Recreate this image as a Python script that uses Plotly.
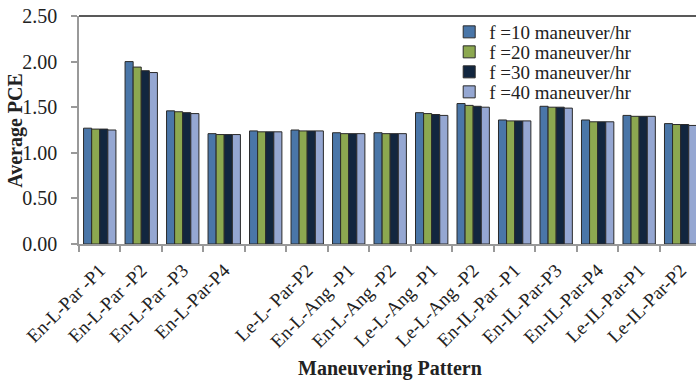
import plotly.graph_objects as go

categories = ["En-L-Par-P1", "En-L-Par-P2", "En-L-Par-P3", "En-L-Par-P4", "Le-L-Par-P1",
              "Le-L-Par-P2", "En-L-Ang-P1", "En-L-Ang-P2", "Le-L-Ang-P1", "Le-L-Ang-P2",
              "En-IL-Par-P1", "En-IL-Par-P3", "En-IL-Par-P4", "Le-IL-Par-P1", "Le-IL-Par-P2"]
tick_labels = ["En-L-Par -P1", "En-L-Par -P2", "En-L-Par -P3", "En-L-Par-P4", "",
               "Le-L- Par-P2", "En-L-Ang -P1", "En-L-Ang -P2", "Le-L-Ang -P1", "Le-L-Ang -P2",
               "En-IL-Par -P1", "En-IL-Par-P3", "En-IL-Par-P4", "Le-IL-Par-P1", "Le-IL-Par-P2"]

series_names = ["f =10 maneuver/hr", "f =20 maneuver/hr", "f =30 maneuver/hr", "f =40 maneuver/hr"]
f10 = [1.27, 2.00, 1.46, 1.21, 1.24, 1.25, 1.22, 1.22, 1.44, 1.54, 1.36, 1.51, 1.36, 1.41, 1.32]
f20 = [1.26, 1.94, 1.45, 1.20, 1.23, 1.24, 1.21, 1.21, 1.43, 1.52, 1.35, 1.50, 1.34, 1.40, 1.31]
f30 = [1.26, 1.90, 1.44, 1.20, 1.23, 1.24, 1.21, 1.21, 1.42, 1.51, 1.35, 1.50, 1.34, 1.40, 1.31]
f40 = [1.25, 1.88, 1.43, 1.20, 1.23, 1.24, 1.21, 1.21, 1.41, 1.50, 1.35, 1.49, 1.34, 1.40, 1.30]
series_values = [f10, f20, f30, f40]

y_ticks = [0, 0.5, 1.0, 1.5, 2.0, 2.5]
y_tick_labels = ["0.00", "0.50", "1.00", "1.50", "2.00", "2.50"]

colors = ["#4A76A8", "#8CA850", "#12263F", "#95A7D2"]
legend_ids = ["legend", "legend2", "legend3", "legend4"]

serif = "Liberation Serif, Times New Roman, serif"

fig = go.Figure()
for name, vals, col, lg in zip(series_names, series_values, colors, legend_ids):
    fig.add_trace(go.Bar(
        x=categories, y=vals, name=name,
        marker=dict(color=col, line=dict(color="#2a2a2a", width=1)),
        legend=lg,
    ))

legend_centers = [32, 52, 72, 92]
legend_common = dict(font=dict(family=serif, size=19, color="#222"),
                     bgcolor="rgba(0,0,0,0)", borderwidth=0,
                     xanchor="left", yanchor="middle", itemwidth=30)
layout_legends = {}
for lg, cy in zip(legend_ids, legend_centers):
    layout_legends[lg] = dict(x=0.60, y=(244 - cy) / 228.0, **legend_common)

fig.update_layout(
    width=696, height=381,
    margin=dict(l=79, r=0, t=16, b=137),
    paper_bgcolor="white", plot_bgcolor="white",
    barmode="group", bargap=0.22, bargroupgap=0.0,
    showlegend=True,
    font=dict(family=serif, color="#222"),
    xaxis=dict(
        type="category",
        categoryorder="array", categoryarray=categories,
        tickmode="array", tickvals=categories, ticktext=tick_labels,
        tickangle=-45, tickfont=dict(family=serif, size=19, color="#222"),
        range=[-0.5, 14.37],
        showline=True, linecolor="#999999", linewidth=1.5,
        ticks="outside", ticklen=6, tickcolor="#999999", tickwidth=1.5,
        tickson="boundaries", ticklabelstandoff=6,
        showgrid=False, zeroline=False,
        automargin=False,
    ),
    yaxis=dict(
        range=[0, 2.5], tickmode="array", tickvals=y_ticks, ticktext=y_tick_labels,
        tickfont=dict(family=serif, size=20, color="#222"),
        showline=True, linecolor="#999999", linewidth=1.5,
        ticks="outside", ticklen=6, tickcolor="#999999", tickwidth=1.5,
        ticklabelstandoff=10, ticklabeloverflow="allow",
        showgrid=False, zeroline=False,
        automargin=False,
    ),
    shapes=[dict(type="line", xref="paper", yref="paper", x0=0, x1=1, y0=1, y1=1,
                 line=dict(color="#222222", width=1.5))],
    annotations=[
        dict(text="<b>Average PCE</b>", xref="paper", yref="paper",
             x=-0.104, y=0.5, xanchor="center", yanchor="middle", textangle=-90,
             showarrow=False, font=dict(family=serif, size=20, color="#222")),
        dict(text="<b>Maneuvering Pattern</b>", xref="paper", yref="paper",
             x=0.504, y=-0.548, xanchor="center", yanchor="middle",
             showarrow=False, font=dict(family=serif, size=20, color="#222")),
    ],
    **layout_legends,
)

fig.write_html("out.html",
               config={"displayModeBar": False},
               post_script="document.body.style.margin='0';document.body.style.overflow='hidden';")
